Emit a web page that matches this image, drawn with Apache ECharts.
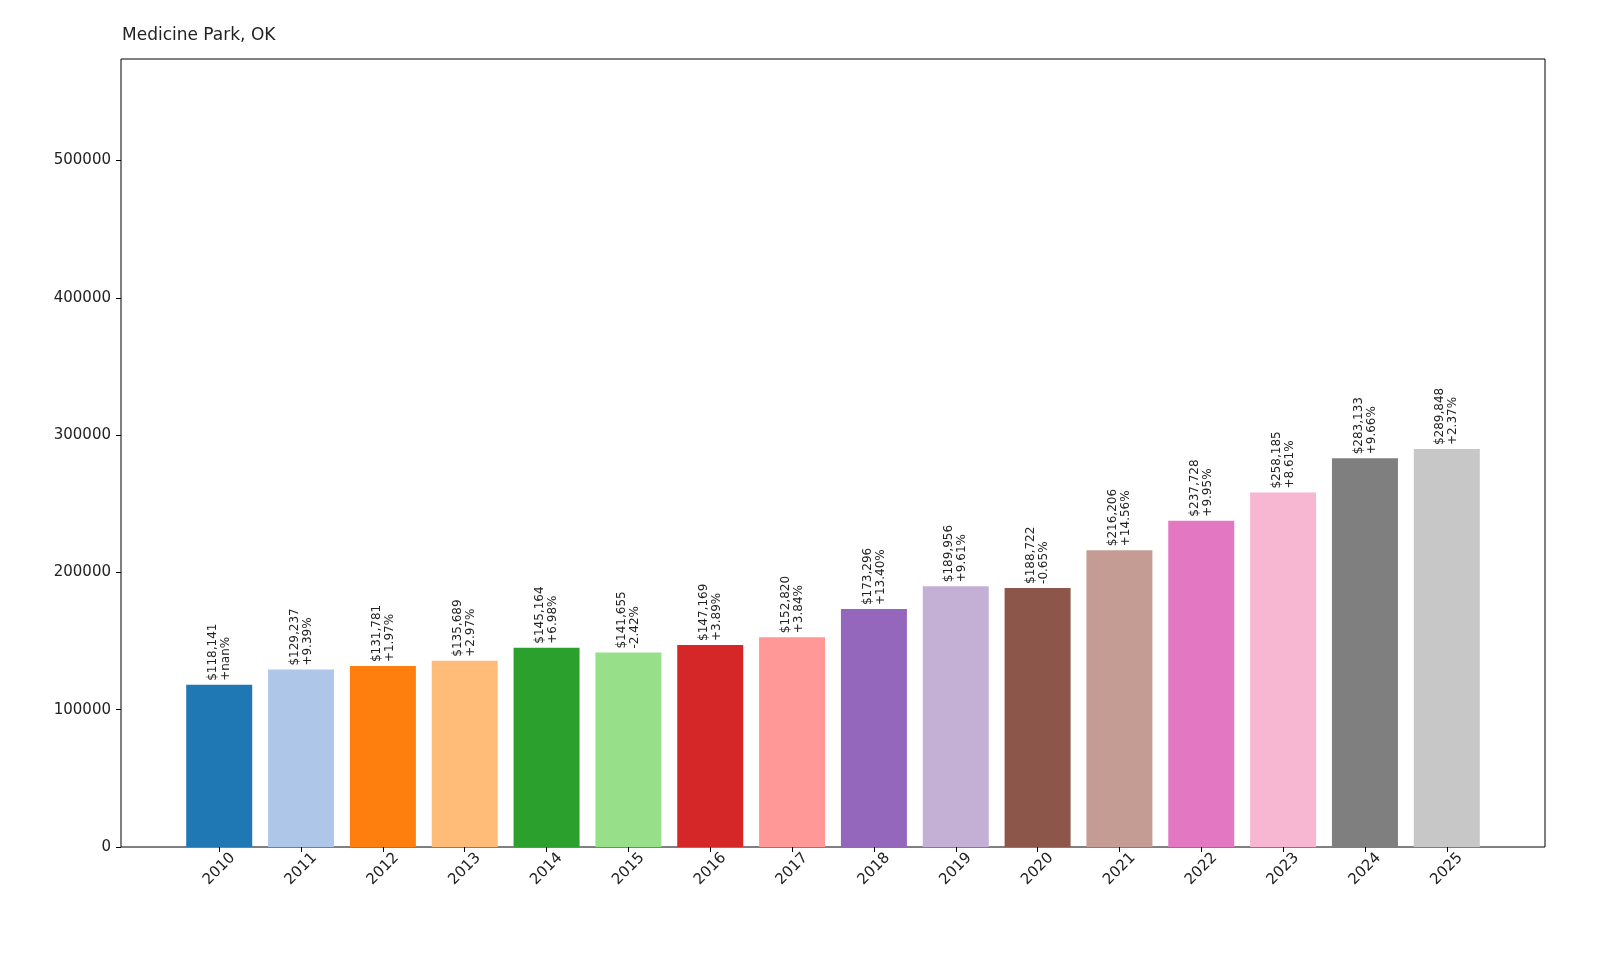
<!DOCTYPE html>
<html><head><meta charset="utf-8">
<script src="https://cdn.jsdelivr.net/npm/echarts@6/dist/echarts.min.js"></script>
<style>html,body{margin:0;padding:0;background:#fff}#c{width:1600px;height:960px}</style>
</head><body><div id="c"></div>
<script>
const years = ['2010','2011','2012','2013','2014','2015','2016','2017','2018','2019','2020','2021','2022','2023','2024','2025'];
const values = [118141,129237,131781,135689,145164,141655,147169,152820,173296,189956,188722,216206,237728,258185,283133,289848];
const changes = ['+nan%','+9.39%','+1.97%','+2.97%','+6.98%','-2.42%','+3.89%','+3.84%','+13.40%','+9.61%','-0.65%','+14.56%','+9.95%','+8.61%','+9.66%','+2.37%'];
const colors = ['#1f77b4','#aec7e8','#ff7f0e','#ffbb78','#2ca02c','#98df8a','#d62728','#ff9896','#9467bd','#c5b0d5','#8c564b','#c49c94','#e377c2','#f7b6d2','#7f7f7f','#c7c7c7'];
const idx = years.map((y,i)=>i);
const chart = echarts.init(document.getElementById('c'));
chart.setOption({
  animation:false,
  textStyle:{fontFamily:'DejaVu Sans'},
  title:{text:'Medicine Park, OK',left:117,top:22,textStyle:{fontSize:17,fontWeight:'normal',color:'#222'}},
  grid:{left:121,right:55,top:59,bottom:113,show:true,borderColor:'#000',borderWidth:1,containLabel:false},
  xAxis:{type:'value',min:-1.2,max:16.2,splitLine:{show:false},
    axisLine:{show:false,onZero:false},
    axisTick:{show:true,length:5,lineStyle:{color:'#000'},customValues:idx},
    axisLabel:{customValues:idx,rotate:45,fontSize:15,color:'#222',margin:22,align:'center',verticalAlign:'middle',formatter:v=>years[Math.round(v)]||''}},
  yAxis:{type:'value',min:0,max:574000,interval:100000,splitLine:{show:false},
    axisLine:{show:false,onZero:false},axisTick:{show:true,length:5,lineStyle:{color:'#000'}},
    axisLabel:{fontSize:15,color:'#222',margin:10,showMaxLabel:false,formatter:v=>String(v)}},
  series:[{type:'bar',barWidth:66,
    data:values.map((v,i)=>({value:[i,v],itemStyle:{color:colors[i]}})),
    label:{show:true,position:'top',rotate:90,align:'left',verticalAlign:'middle',distance:4,
      fontSize:12,color:'#222',lineHeight:13,
      formatter:p=>'$'+values[p.dataIndex].toLocaleString('en-US')+'\n'+changes[p.dataIndex]}}]
});
</script></body></html>
